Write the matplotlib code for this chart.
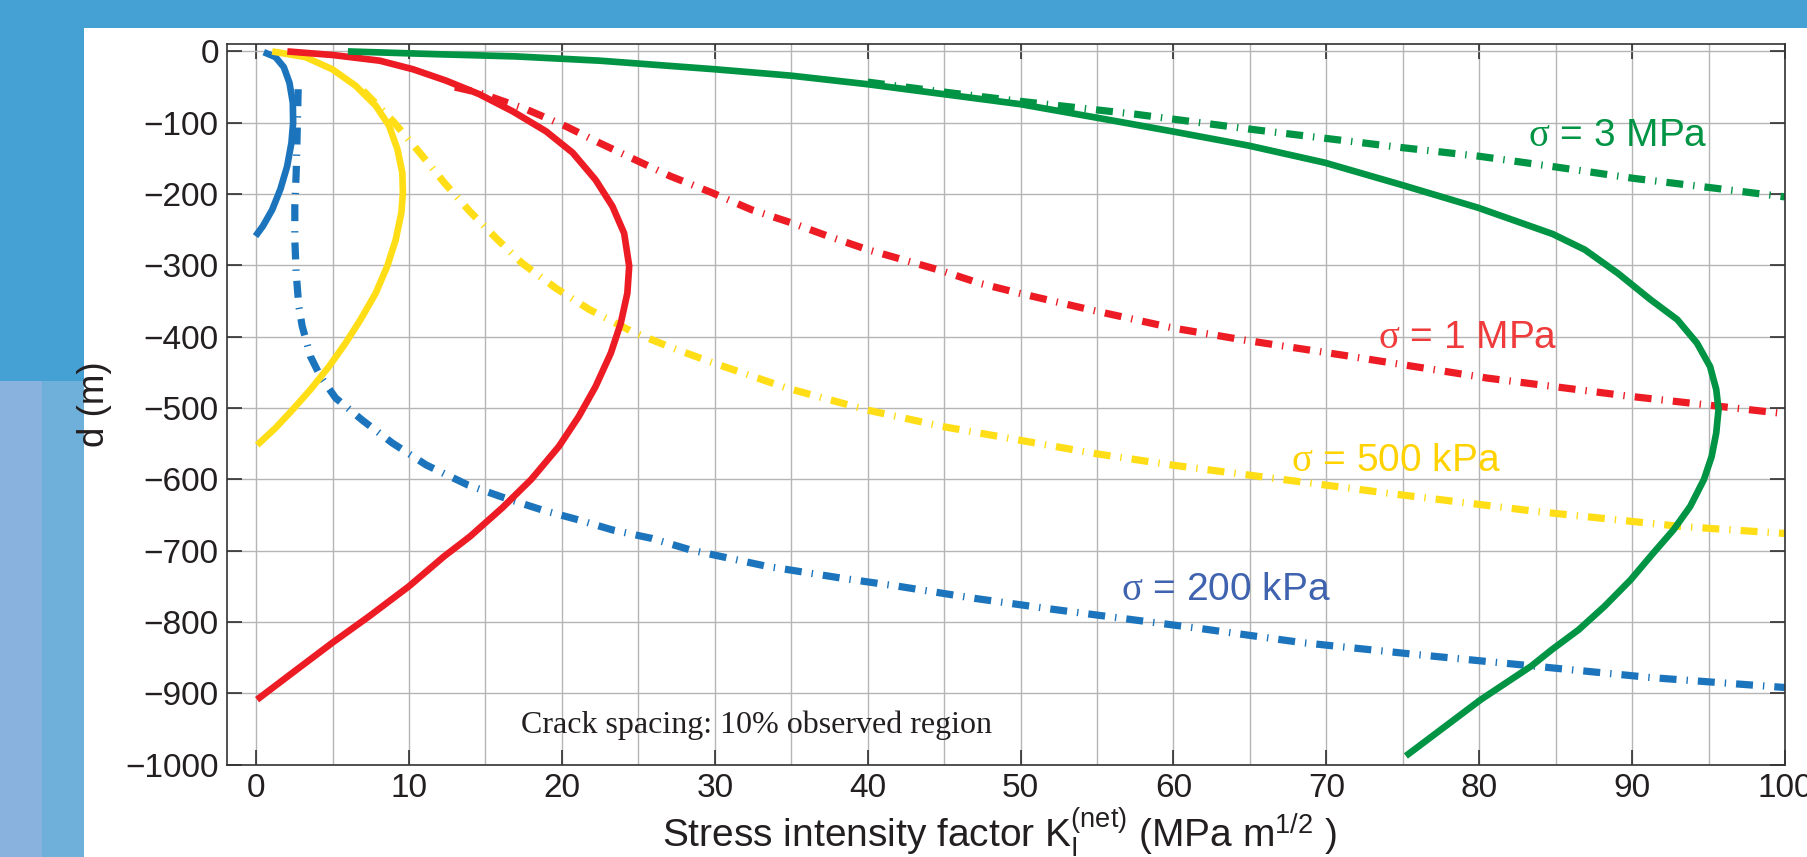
import matplotlib
matplotlib.use('Agg')
import matplotlib.pyplot as plt
from matplotlib.patches import Rectangle

plt.rcParams['font.family'] = ['Liberation Sans', 'DejaVu Sans']
plt.rcParams['mathtext.fontset'] = 'custom'
plt.rcParams['mathtext.it'] = 'Liberation Serif'
plt.rcParams['mathtext.rm'] = 'Liberation Sans'
plt.rcParams['lines.scale_dashes'] = False

# sigma = 200 kPa
blue_solid_k = [0.5, 1.27, 1.81, 2.18, 2.4, 2.42, 2.31, 2.03, 1.59, 1.05, 0.44, -0.04]
blue_solid_d = [-1, -8, -22, -44, -72, -100, -128, -161, -193, -222, -245, -259]
blue_dash_k = [2.75, 2.7, 2.62, 2.53, 2.53, 2.62, 2.79, 3.01, 3.56, 4.21, 5.2, 6.94, 8.9, 11.13,
               13.85, 16.1, 18.7, 21.1, 23.3, 25.9, 28.4, 33.4, 38.4, 42.0, 47.0, 52.0, 62.0,
               68.4, 76.0, 83.6, 91.2, 100]
blue_dash_d = [-53, -100, -170, -217, -264, -311, -357, -385, -428, -456, -486, -517, -549, -580,
               -608, -625, -643, -657, -671, -683, -699, -722, -739, -750, -767, -782, -810,
               -829, -846, -862, -878, -892]

# sigma = 500 kPa
yellow_solid_k = [1.05, 3.23, 4.98, 6.5, 7.82, 8.69, 9.24, 9.56, 9.6, 9.5, 9.13, 8.58, 7.82,
                  6.83, 5.85, 4.76, 3.56, 2.36, 1.27, 0.07]
yellow_solid_d = [0, -8, -25, -48, -76, -104, -137, -170, -198, -226, -264, -301, -339,
                  -376, -409, -442, -474, -503, -528, -552]
yellow_dash_k = [7.0, 8.96, 10.7, 12.3, 13.96, 15.7, 17.4, 19.6, 21.8, 24.6, 27.0, 29.8, 34.7,
                 40.0, 44.9, 49.9, 54.9, 59.9, 64.9, 74.2, 83.7, 93.1, 100]
yellow_dash_d = [-55, -98, -142, -184, -224, -262, -297, -332, -362, -393, -414, -436, -472,
                 -503, -526, -545, -564, -580, -594, -620, -645, -666, -676]

# sigma = 1 MPa
red_solid_k = [2.04, 5.0, 8.09, 10.26, 12.43, 14.6, 16.78, 18.96, 20.7, 22.2, 23.3, 24.07, 24.4,
               24.28, 23.85, 23.2, 22.2, 21.1, 19.8, 18.0, 16.1, 14.0, 12.3, 10.0, 7.4, 5.0,
               2.4, 0.06]
red_solid_d = [0, -5, -13, -25, -41, -60, -84, -112, -142, -180, -217, -255, -301,
               -339, -381, -423, -470, -512, -554, -600, -640, -680, -708, -750, -792, -829,
               -871, -909]
red_dash_k = [13.0, 14.6, 17.65, 20.26, 22.43, 24.8, 27.1, 29.8, 32.4, 35.1, 37.4, 40.0, 42.3,
              44.9, 47.3, 49.9, 54.5, 60.0, 64.7, 71.1, 80.5, 90.0, 100]
red_dash_d = [-50, -58, -81, -105, -128, -152, -175, -198, -222, -241, -259, -278, -292,
              -308, -325, -339, -362, -388, -405, -426, -458, -484, -508]

# sigma = 3 MPa
green_solid_k = [6.0, 12.0, 17.0, 22.5, 30.0, 35.0, 40.0, 45.0, 50.0, 55.0, 59.9, 64.9, 69.9,
                 74.9, 79.9, 84.8, 86.9, 89.06, 91.2, 92.95, 94.24, 95.1, 95.5, 95.65, 95.5,
                 95.2, 94.7, 93.8, 92.7, 91.4, 89.9, 88.2, 86.5, 84.74, 83.4, 80.1, 75.2]
green_solid_d = [0, -4, -7, -13, -25, -34, -46, -60, -74, -93, -112, -132, -156,
                 -187, -219, -256, -278, -311, -348, -376, -409, -442, -474, -502, -535,
                 -568, -600, -638, -671, -703, -741, -778, -811, -839, -862, -909, -988]
green_dash_k = [40.0, 45.0, 50.0, 55.0, 57.5, 60.0, 65.0, 70.0, 75.0, 80.0, 85.0, 90.1, 95.5, 100]
green_dash_d = [-43, -57, -70, -82, -88, -95, -109, -122, -135, -147, -162, -178, -192, -204]

labels = ['$\\sigma$ = 200 kPa', '$\\sigma$ = 500 kPa', '$\\sigma$ = 1 MPa', '$\\sigma$ = 3 MPa']
label_k = [56.6, 67.7, 73.4, 83.2]
label_d = [-755, -574, -402, -119]

BLUE = '#1c75bc'
YELLOW = '#ffde17'
RED = '#ed1c24'
GREEN = '#009444'
label_colors = ['#3f63ae', '#ffd200', '#ef3b3b', GREEN]

dashdot = (0, (12.2, 7.2, 1.0, 7.2))

fig = plt.figure(figsize=(18.08, 8.57), dpi=100, facecolor='#45a0d4')
# lighter patches on the left border, as in the source page
fig.patches.append(Rectangle((0, 0), 0.023, 0.556, transform=fig.transFigure,
                             facecolor='#8ab2df', edgecolor='none', zorder=-2))
fig.patches.append(Rectangle((0.023, 0), 0.0235, 0.556, transform=fig.transFigure,
                             facecolor='#6fb0da', edgecolor='none', zorder=-2))
fig.patches.append(Rectangle((0.0465, 0), 1, 0.9673, transform=fig.transFigure,
                             facecolor='white', edgecolor='none', zorder=-1))

ax = fig.add_axes([0.1256, 0.1079, 0.8617, 0.8404])
ax.set_facecolor('none')

series = [
    (blue_solid_k, blue_solid_d, blue_dash_k, blue_dash_d, BLUE),
    (yellow_solid_k, yellow_solid_d, yellow_dash_k, yellow_dash_d, YELLOW),
    (red_solid_k, red_solid_d, red_dash_k, red_dash_d, RED),
    (green_solid_k, green_solid_d, green_dash_k, green_dash_d, GREEN),
]
for sk, sd, dk, dd, c in series:
    ax.plot(sk, sd, color=c, lw=4.8, solid_capstyle='butt', solid_joinstyle='round')
    ax.plot(dk, dd, color=c, lw=5.2, linestyle=dashdot)

for txt, k, d, c in zip(labels, label_k, label_d, label_colors):
    ax.text(k, d, txt, color=c, fontsize=28, ha='left', va='center')

ax.text(17.3, -945, 'Crack spacing: 10% observed region', fontsize=23,
        family='Liberation Serif', ha='left', va='center', color='#231f20')

ax.set_xlim(-1.9, 100)
ax.set_ylim(-1000, 10)
ax.set_xticks(range(0, 101, 10))
ax.set_xticks(range(5, 100, 10), minor=True)
ax.set_yticks(range(-1000, 1, 100))
ax.grid(which='both', color='#b5b5b5', linewidth=1.0)
ax.set_axisbelow(True)
ax.tick_params(which='major', direction='in', length=11, width=1.1, top=True, right=True,
               labelsize=24, pad=6, colors='#231f20')
ax.tick_params(which='minor', length=0)
for s in ax.spines.values():
    s.set_linewidth(1.2)
    s.set_color('#333333')

ax.set_ylabel('d (m)', fontsize=26.5, color='#231f20')
ax.yaxis.set_label_coords(-0.074, 0.5)
ax.set_xlabel('Stress intensity factor K$_\\mathregular{I}^\\mathregular{(net)}$ (MPa m$^\\mathregular{1/2}$ )',
              fontsize=28, color='#231f20')
ax.xaxis.label.set_va('baseline')
ax.xaxis.set_label_coords(0.496, -0.114)

fig.savefig('out.png', dpi=100, facecolor=fig.get_facecolor())
